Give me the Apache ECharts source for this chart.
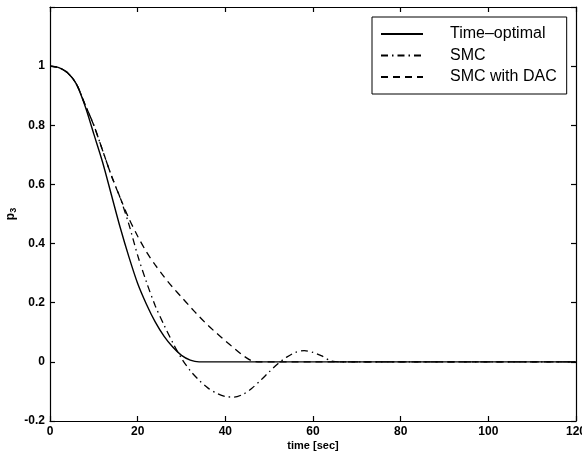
<!DOCTYPE html>
<html>
<head>
<meta charset="utf-8">
<script src="https://cdn.jsdelivr.net/npm/echarts@6/dist/echarts.min.js"></script>
<style>html,body{margin:0;padding:0;background:#fff;}#c{width:582px;height:453px;}</style>
</head>
<body>
<div id="c"></div>
<script>
// time samples [sec]
var timeSec = [0,2,4,6,8,10,12,14,16,18,20,22,24,26,28,30,32,34,36,38,40,42,44,46,48,50,52,54,56,58,60,62,64,66,120];
var timeOptimal = [1,0.995,0.978,0.94,0.865,0.77,0.675,0.565,0.455,0.355,0.265,0.195,0.135,0.087,0.05,0.022,0.006,0,0,0,0,0,0,0,0,0,0,0,0,0,0,0,0,0,0];
var smc = [1,0.995,0.978,0.94,0.87,0.8,0.715,0.63,0.555,0.465,0.36,0.27,0.19,0.125,0.065,0.012,-0.03,-0.062,-0.088,-0.106,-0.117,-0.119,-0.11,-0.09,-0.063,-0.034,-0.006,0.016,0.032,0.038,0.032,0.02,0.004,0,0];
var smcDac = [1,0.995,0.978,0.94,0.87,0.8,0.715,0.63,0.555,0.485,0.425,0.372,0.328,0.288,0.252,0.219,0.186,0.154,0.124,0.097,0.071,0.046,0.022,0.004,0,0,0,0,0,0,0,0,0,0,0];
var seriesNames = ['Time\u2013optimal','SMC','SMC with DAC'];
var xTicks = [0,20,40,60,80,100,120];
var yTicks = [-0.2,0,0.2,0.4,0.6,0.8,1];

function pairs(v){ return timeSec.map(function(t,i){ return [t, v[i]]; }); }

var chart = echarts.init(document.getElementById('c'), null, {renderer:'canvas'});
var font = 'Liberation Sans, Arial, Helvetica, sans-serif';
var axisCommon = {
  axisLine:{show:true, onZero:false, lineStyle:{color:'#000', width:1.2}},
  axisTick:{show:true, inside:true, length:5, lineStyle:{color:'#000', width:1.2}},
  splitLine:{show:false}
};
chart.setOption({
  animation:false,
  backgroundColor:'#fff',
  grid:{left:50, right:6, top:7, bottom:32, containLabel:false, outerBoundsMode:'none'},
  legend:{
    show:true, orient:'vertical', left:372, top:17,
    data:seriesNames,
    itemWidth:42, itemHeight:14, itemGap:5.5,
    padding:[9,10,9,8],
    borderColor:'#000', borderWidth:1, backgroundColor:'#fff',
    itemStyle:{opacity:0, borderWidth:0},
    textStyle:{fontFamily:font, fontSize:16, color:'#000', lineHeight:14, padding:[0,0,0,22]}
  },
  xAxis:[
    Object.assign({type:'value', min:0, max:120, interval:20, position:'bottom',
      name:'time [sec]', nameLocation:'middle', nameGap:19, nameMoveOverlap:false,
      nameTextStyle:{fontFamily:font, fontSize:11, fontWeight:'bold', color:'#000'},
      axisLabel:{margin:5, fontFamily:font, fontSize:12, fontWeight:'bold', color:'#000',
        formatter:function(v){ return xTicks.indexOf(v)>=0 ? String(v) : ''; }}
    }, axisCommon),
    Object.assign({type:'value', min:0, max:120, interval:20, position:'top', axisLabel:{show:false}}, axisCommon)
  ],
  yAxis:[
    Object.assign({type:'value', min:-0.2, max:1.2, interval:0.2, position:'left',
      name:'{p|p}{s|3}', nameLocation:'middle', nameGap:32, nameRotate:90, nameMoveOverlap:false,
      nameTextStyle:{rich:{
        p:{fontFamily:font, fontSize:12, fontWeight:'bold', color:'#000'},
        s:{fontFamily:font, fontSize:9, fontWeight:'bold', color:'#000', padding:[6,0,0,0]}
      }},
      axisLabel:{margin:5, fontFamily:font, fontSize:12, fontWeight:'bold', color:'#000',
        formatter:function(v){
          var r = Math.round(v*10)/10;
          for (var i=0;i<yTicks.length;i++){ if (Math.abs(yTicks[i]-r)<1e-6) return String(yTicks[i]); }
          return '';
        }}
    }, axisCommon),
    Object.assign({type:'value', min:-0.2, max:1.2, interval:0.2, position:'right', axisLabel:{show:false}}, axisCommon)
  ],
  series:[
    {name:seriesNames[2], type:'line', data:pairs(smcDac), symbol:'none', showSymbol:false, smooth:0.3,
      lineStyle:{color:'#000', width:1.3, type:[7,5]}, itemStyle:{color:'#000'}, z:2},
    {name:seriesNames[1], type:'line', data:pairs(smc), symbol:'none', showSymbol:false, smooth:0.3,
      lineStyle:{color:'#000', width:1.3, type:[7,4,1.5,4]}, itemStyle:{color:'#000'}, z:3},
    {name:seriesNames[0], type:'line', data:pairs(timeOptimal), symbol:'none', showSymbol:false, smooth:0.3,
      lineStyle:{color:'#000', width:1.4, type:'solid'}, itemStyle:{color:'#000'}, z:4}
  ]
});
</script>
</body>
</html>
